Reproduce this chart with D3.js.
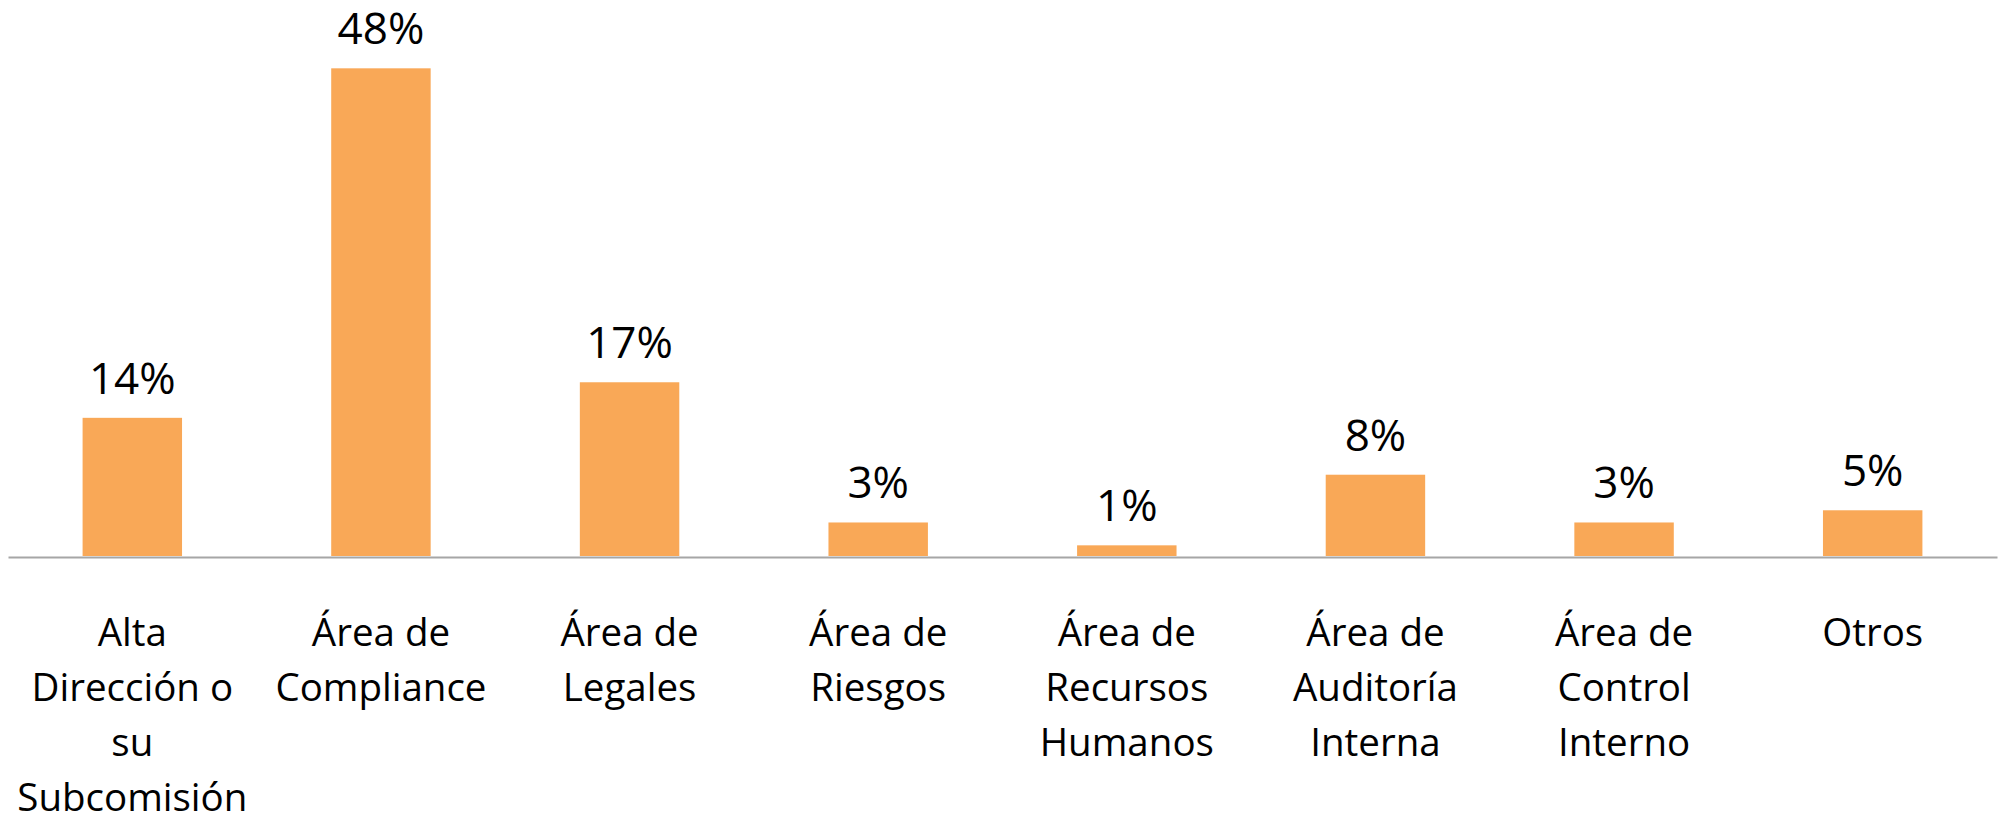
<!DOCTYPE html>
<html>
<head>
<meta charset="utf-8">
<script src="https://cdn.jsdelivr.net/npm/d3@7"></script>
<style>
    body { margin: 0; background: #fff; }
    svg { display: block; }
    .axis path { stroke: #a6a6a6; stroke-width: 2px; }
    .axis line { display: none; }
    text { font-family: "Open Sans", sans-serif; fill: #000; }
</style>
</head>
<body>
<svg id="chart" width="2001" height="818"></svg>
<script>
// categories as they wrap in the original chart
var categories = [
    "Alta|Dirección o|su|Subcomisión",
    "Área de|Compliance",
    "Área de|Legales",
    "Área de|Riesgos",
    "Área de|Recursos|Humanos",
    "Área de|Auditoría|Interna",
    "Área de|Control|Interno",
    "Otros"
];
var values = [13.6, 48, 17.1, 3.3, 1.05, 8, 3.3, 4.5];
var valueLabels = ["14%", "48%", "17%", "3%", "1%", "8%", "3%", "5%"];

var svg = d3.select("#chart");
var baseY = 556;

var x = d3.scaleBand()
    .domain(categories)
    .range([8, 1997])
    .paddingInner(0.6)
    .paddingOuter(0.3);

var y = d3.scaleLinear()
    .domain([0, 50])
    .range([baseY, 48]);

var data = categories.map(function(c, i) {
    return { cat: c, value: values[i], label: valueLabels[i] };
});

// bars
svg.selectAll(".bar")
    .data(data)
    .enter().append("rect")
    .attr("class", "bar")
    .attr("x", d => x(d.cat))
    .attr("y", d => y(d.value))
    .attr("width", x.bandwidth())
    .attr("height", d => baseY - y(d.value))
    .attr("fill", "#f9a857");

// value labels above bars
svg.selectAll(".vlabel")
    .data(data)
    .enter().append("text")
    .attr("class", "vlabel")
    .attr("x", d => x(d.cat) + x.bandwidth() / 2)
    .attr("y", d => y(d.value) - 24)
    .attr("text-anchor", "middle")
    .style("font-size", "44px")
    .text(d => d.label);

// x axis
var axisG = svg.append("g")
    .attr("class", "axis")
    .attr("transform", "translate(0," + (baseY + 1) + ")")
    .call(d3.axisBottom(x).tickSize(0).tickSizeOuter(0));

axisG.selectAll(".tick text").remove();

axisG.selectAll(".tick").append("text")
    .attr("text-anchor", "middle")
    .style("font-size", "38.5px")
    .each(function(d) {
        var t = d3.select(this);
        d.split("|").forEach(function(line, i) {
            t.append("tspan")
                .attr("x", 0)
                .attr("y", 89 + i * 55)
                .text(line);
        });
    });
</script>
</body>
</html>
